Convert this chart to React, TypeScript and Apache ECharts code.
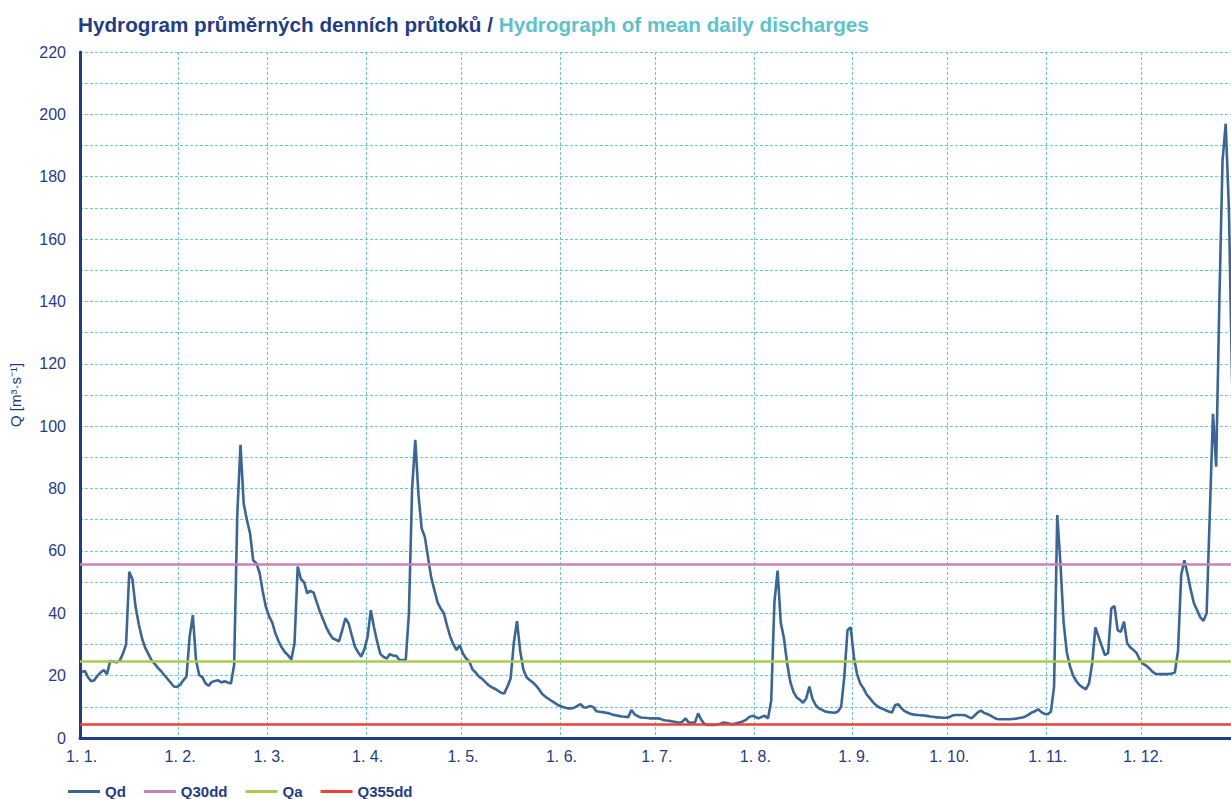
import React, { useEffect, useRef } from "react";
import * as echarts from "echarts";

// ---- data ----
const monthLengths = [31, 28, 31, 30, 31, 30, 31, 31, 30, 31, 30, 31];
const monthLabels = ["1. 1.", "1. 2.", "1. 3.", "1. 4.", "1. 5.", "1. 6.", "1. 7.", "1. 8.", "1. 9.", "1. 10.", "1. 11.", "1. 12."];

const qdJan = [21.2, 21.5, 19.5, 18.2, 18.5, 20, 21, 21.8, 20.5, 24.7, 24.5, 24.3, 24.8, 27, 30, 53.3, 50.8, 42, 36.5, 32, 29, 27, 25, 23.8, 22.5, 21.5, 20.2, 19, 17.8, 16.5, 16.4];
const qdFeb = [17, 18.5, 19.7, 32.5, 39.4, 25, 20.2, 19.5, 17.5, 16.8, 18, 18.3, 18.5, 17.8, 18.2, 17.8, 17.5, 23.4, 72, 94, 75.3, 70, 65.7, 57, 56, 53, 47, 42];
const qdMar = [39, 37, 33.5, 31, 29, 27.5, 26.5, 25.2, 30.4, 55, 51, 50, 46.4, 47.2, 46.6, 43.5, 40.5, 38, 35.5, 33.5, 32, 31.5, 31, 34.5, 38.4, 36.8, 33, 29.3, 27.5, 26.1, 28.5];
const qdApr = [32.5, 41, 35.5, 30.9, 27, 26, 25.5, 26.9, 26.4, 26.4, 25, 25, 25, 40, 80, 95.6, 78, 67.2, 64.5, 58, 51.5, 47.5, 43.5, 41.5, 40, 36, 32.5, 30, 28.2, 29.8];
const qdMay = [27, 25.5, 24.5, 22, 21, 19.7, 19, 18, 17, 16.3, 15.8, 15.2, 14.5, 14.3, 16.5, 19.1, 30.5, 37.5, 28, 22, 19.5, 18.6, 17.8, 16.8, 15.5, 14, 13.2, 12.5, 11.8, 11.2, 10.5];
const qdJun = [10.1, 9.8, 9.5, 9.5, 9.7, 10.3, 10.9, 9.8, 9.8, 10.3, 9.9, 8.6, 8.4, 8.3, 8.1, 7.9, 7.5, 7.3, 7.1, 6.9, 6.8, 6.7, 9, 7.6, 7.0, 6.6, 6.5, 6.4, 6.3, 6.3];
const qdJul = [6.3, 6.2, 5.8, 5.6, 5.5, 5.3, 5.1, 4.9, 5.2, 6.3, 5.0, 4.9, 5.0, 7.9, 5.8, 4.5, 4.2, 4.2, 4.2, 4.3, 4.6, 5.0, 4.8, 4.6, 4.4, 4.7, 5.0, 5.3, 5.8, 6.7, 7.1];
const qdAug = [6.8, 6.3, 6.8, 7.1, 6.3, 12, 43.5, 53.7, 37, 32, 24, 18, 14.8, 13, 12.3, 11.3, 12.7, 16.5, 12.5, 10.5, 9.5, 9, 8.5, 8.3, 8.2, 8.1, 8.5, 10, 19.7, 34.6, 35.5];
const qdSep = [26, 20.5, 17.5, 16, 14, 12.8, 11.5, 10.5, 9.8, 9.4, 8.9, 8.5, 8.2, 10.6, 10.8, 9.5, 8.6, 8.1, 7.7, 7.5, 7.4, 7.3, 7.2, 7.1, 6.9, 6.8, 6.6, 6.6, 6.5, 6.5];
const qdOct = [6.7, 7.2, 7.4, 7.4, 7.4, 7.3, 6.8, 6.3, 7.2, 8.2, 8.8, 8.0, 7.7, 7.2, 6.6, 6.1, 6.0, 6.0, 6.0, 6.0, 6.1, 6.2, 6.4, 6.6, 6.9, 7.5, 8.2, 8.6, 9.2, 8.3, 7.7];
const qdNov = [7.6, 8.4, 16.5, 71.5, 56, 37, 27.5, 23, 20, 18.2, 17, 16.2, 15.6, 17.5, 24, 35.5, 32.5, 29.5, 26.6, 27.2, 41.6, 42.3, 34.6, 34, 37.3, 30.4, 29, 28.2, 27.2, 25];
const qdDec = [23.8, 23.2, 22.3, 21.2, 20.6, 20.5, 20.5, 20.5, 20.5, 20.7, 21, 28, 52.3, 57, 52.5, 47.5, 43.2, 41, 38.7, 37.6, 40, 72, 104, 87, 140, 185, 197, 170, 115, 95, 85];

const Q30DD = 55.7;
const QA = 24.5;
const Q355DD = 4.5;

const qd = [...qdJan, ...qdFeb, ...qdMar, ...qdApr, ...qdMay, ...qdJun, ...qdJul, ...qdAug, ...qdSep, ...qdOct, ...qdNov, ...qdDec];

const days: string[] = [];
const monthStartIdx = new Map<number, number>();
{
  let acc = 0;
  monthLengths.forEach((len, m) => {
    monthStartIdx.set(acc, m);
    for (let d = 1; d <= len; d++) days.push(`${d}. ${m + 1}.`);
    acc += len;
  });
}

const NAVY = "#1f3c88";
const CYAN = "#5cc3cc";
const GRID = "#6cc6d4";
const FONT = "'Liberation Sans', Arial, sans-serif";

function constLine(name: string, value: number, color: string) {
  return {
    name,
    type: "line",
    data: [],
    symbol: "none",
    color,
    itemStyle: { color },
    lineStyle: { color, width: 2.5 },
    z: 3,
    markLine: {
      silent: true,
      symbol: ["none", "none"],
      label: { show: false },
      emphasis: { disabled: true },
      lineStyle: { color, width: 2.5, type: "solid" },
      data: [{ yAxis: value }],
      animation: false,
    },
  };
}

export default function App() {
  const ref = useRef<HTMLDivElement>(null);
  useEffect(() => {
    if (!ref.current) return;
    const chart = echarts.init(ref.current, undefined, { renderer: "svg" });
    chart.setOption({
      animation: false,
      backgroundColor: "#ffffff",
      textStyle: { fontFamily: FONT },
      title: {
        text: "{a|Hydrogram průměrných denních průtoků / }{b|Hydrograph of mean daily discharges}",
        left: 78,
        top: 14,
        padding: 0,
        textStyle: {
          rich: {
            a: { fontSize: 20.7, fontWeight: "bold", color: NAVY, fontFamily: FONT },
            b: { fontSize: 20.7, fontWeight: "bold", color: CYAN, fontFamily: FONT },
          },
        },
      },
      grid: { left: 79, right: 0, top: 52, bottom: 61, containLabel: false },
      legend: {
        left: 68,
        top: 784,
        icon: "rect",
        itemWidth: 32,
        itemHeight: 3,
        itemGap: 18,
        padding: 0,
        textStyle: { color: NAVY, fontSize: 15, fontWeight: "bold", fontFamily: FONT },
        data: ["Qd", "Q30dd", "Qa", "Q355dd"],
      },
      xAxis: {
        type: "category",
        data: days,
        boundaryGap: true,
        axisLine: { lineStyle: { color: NAVY, width: 3 } },
        axisTick: { show: false },
        axisLabel: {
          interval: (i: number) => monthStartIdx.has(i),
          formatter: (_v: string, i: number) => monthLabels[monthStartIdx.get(i) ?? 0],
          color: NAVY,
          fontSize: 16,
          margin: 10,
          fontFamily: FONT,
        },
        splitLine: {
          show: true,
          interval: (i: number) => monthStartIdx.has(i),
          lineStyle: { color: GRID, width: 1, type: [3, 2] },
        },
      },
      yAxis: {
        type: "value",
        min: 0,
        max: 220,
        interval: 10,
        name: "Q [m³·s⁻¹]",
        nameLocation: "middle",
        nameRotate: 90,
        nameGap: 57,
        nameTextStyle: { color: NAVY, fontSize: 15, fontFamily: FONT },
        axisLine: { show: true, lineStyle: { color: NAVY, width: 3 } },
        axisTick: { show: false },
        axisLabel: {
          color: NAVY,
          fontSize: 16,
          margin: 14,
          fontFamily: FONT,
          formatter: (v: number) => (v % 20 === 0 ? String(v) : ""),
        },
        splitLine: { show: true, lineStyle: { color: GRID, width: 1, type: [3, 2] } },
      },
      series: [
        {
          name: "Qd",
          type: "line",
          data: qd,
          symbol: "none",
          color: "#3a6597",
          itemStyle: { color: "#3a6597" },
          lineStyle: { color: "#3a6597", width: 2.6 },
          z: 2,
          clip: true,
        },
        constLine("Q30dd", Q30DD, "#c483bd"),
        constLine("Qa", QA, "#a9cb50"),
        constLine("Q355dd", Q355DD, "#e8423b"),
      ],
    });
    return () => chart.dispose();
  }, []);
  return (
    <div style={{ position: "fixed", left: 0, top: 0, width: 1231, height: 799, overflow: "hidden", background: "#fff" }}>
      <div ref={ref} style={{ width: 1240, height: 799 }} />
    </div>
  );
}
